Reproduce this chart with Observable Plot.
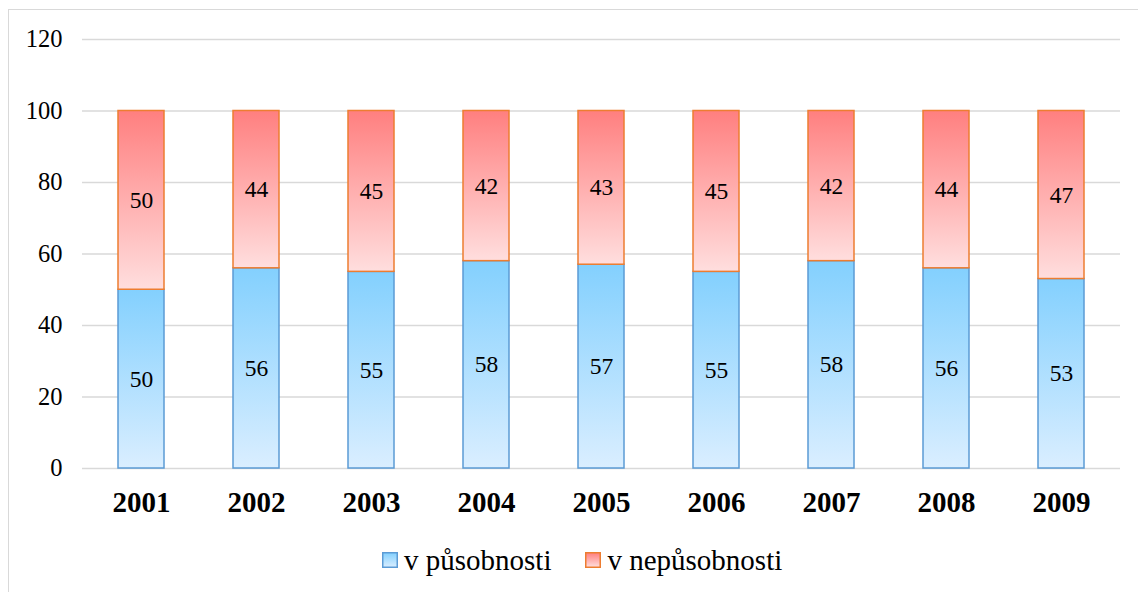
<!DOCTYPE html>
<html>
<head>
<meta charset="utf-8">
<script src="https://cdn.jsdelivr.net/npm/d3@7"></script>
<script src="https://cdn.jsdelivr.net/npm/@observablehq/plot@0.6"></script>
<style>
  html, body { margin: 0; padding: 0; background: #fff; width: 1138px; height: 592px; overflow: hidden; }
  #frame { position: absolute; left: 8px; top: 9px; width: 1200px; height: 650px; border: 1.5px solid #d9d9d9; box-sizing: border-box; }
  #chart { position: absolute; left: 0; top: 0; }
  #chart svg text { font-family: "Liberation Serif", "Times New Roman", serif; }
  #legend { position: absolute; left: 382px; top: 544px; height: 32px; display: flex; align-items: center; font-family: "Liberation Serif", "Times New Roman", serif; font-size: 29px; line-height: 32px; color: #000; }
  .item { display: flex; align-items: center; }
  .item svg { margin-right: 6px; }
</style>
</head>
<body>
<div id="frame"></div>
<div id="chart"></div>
<div id="legend"></div>
<script>
const years = ["2001","2002","2003","2004","2005","2006","2007","2008","2009"];
const seriesNames = ["v působnosti", "v nepůsobnosti"];
const inForce = [50, 56, 55, 58, 57, 55, 58, 56, 53];
const notInForce = [50, 44, 45, 42, 43, 45, 42, 44, 47];
const yTicks = [0, 20, 40, 60, 80, 100, 120];

const FONT = "'Liberation Serif', 'Times New Roman', serif";
const fills = {"v působnosti": "url(#gradBlue)", "v nepůsobnosti": "url(#gradRed)"};
const strokes = {"v působnosti": "#5b9bd5", "v nepůsobnosti": "#ed7d31"};

const data = [];
years.forEach((y, i) => {
  data.push({year: y, series: seriesNames[0], value: inForce[i]});
  data.push({year: y, series: seriesNames[1], value: notInForce[i]});
});

const defs = () => {
  const d = d3.create("svg:defs");
  const mk = (id, top, bottom) => {
    const g = d.append("linearGradient").attr("id", id).attr("x1", 0).attr("y1", 0).attr("x2", 0).attr("y2", 1);
    g.append("stop").attr("offset", "0%").attr("stop-color", top);
    g.append("stop").attr("offset", "100%").attr("stop-color", bottom);
  };
  mk("gradBlue", "#83d0fe", "#daeeff");
  mk("gradRed", "#ff7f7f", "#ffdede");
  return d.node();
};

const chart = Plot.plot({
  width: 1138,
  height: 530,
  marginLeft: 82,
  marginRight: 18,
  marginTop: 39,
  marginBottom: 62,
  style: {fontFamily: FONT, background: "transparent", color: "#000"},
  x: {domain: years, paddingInner: 0.6, paddingOuter: 0.3, label: null},
  y: {domain: [0, 120], label: null},
  color: {type: "identity"},
  marks: [
    defs,
    Plot.gridY(yTicks, {stroke: "#d9d9d9", strokeOpacity: 1, strokeWidth: 1.5}),
    Plot.axisY(yTicks, {tickSize: 0, tickPadding: 20, fontSize: 24.5, fontFamily: FONT, label: null}),
    Plot.axisX({tickSize: 0, tickPadding: 23, fontSize: 29, fontWeight: "bold", fontFamily: FONT, label: null}),
    Plot.barY(data, Plot.stackY({
      x: "year", y: "value", order: seriesNames,
      fill: d => fills[d.series],
      stroke: d => strokes[d.series],
      strokeWidth: 1.5,
      inset: 0
    })),
    Plot.text(data, Plot.stackY({
      x: "year", y: "value", z: "series", order: seriesNames,
      text: d => String(d.value),
      fontSize: 23.5, fontFamily: FONT, fill: "#000"
    }))
  ]
});
document.getElementById("chart").appendChild(chart);

const legend = d3.select("#legend");
seriesNames.forEach((name, i) => {
  const item = legend.append("div").attr("class", "item").style("margin-right", i === 0 ? "34px" : "0");
  const s = item.append("svg").attr("width", 16).attr("height", 16);
  const gid = i === 0 ? "lgB" : "lgR";
  const lg = s.append("defs").append("linearGradient").attr("id", gid).attr("x1", 0).attr("y1", 0).attr("x2", 0).attr("y2", 1);
  lg.append("stop").attr("offset", "0%").attr("stop-color", i === 0 ? "#83d0fe" : "#ff7f7f");
  lg.append("stop").attr("offset", "100%").attr("stop-color", i === 0 ? "#daeeff" : "#ffdede");
  s.append("rect").attr("x", 0.75).attr("y", 0.75).attr("width", 14.5).attr("height", 14.5)
    .attr("fill", `url(#${gid})`).attr("stroke", strokes[name]).attr("stroke-width", 1.5);
  item.append("span").text(name);
});
</script>
</body>
</html>
